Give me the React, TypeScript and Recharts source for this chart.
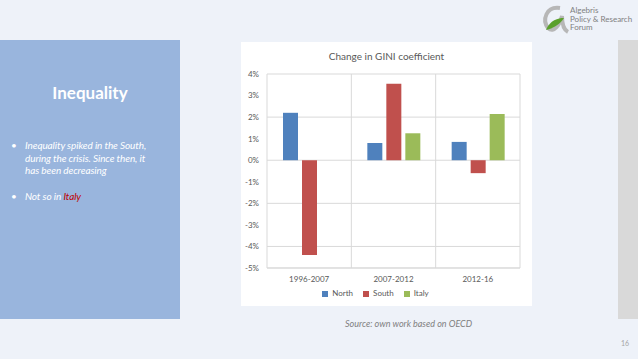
import React from 'react';
import { BarChart, Bar, XAxis, YAxis, CartesianGrid, Legend } from 'recharts';

const periods = ['1996-2007', '2007-2012', '2012-16'];
const north = [2.2, 0.8, 0.85];
const south = [-4.4, 3.55, -0.6];
const italy = [null, 1.25, 2.15];
const seriesNames = ['North', 'South', 'Italy'];
const yTicks = [-5, -4, -3, -2, -1, 0, 1, 2, 3, 4];

const data = periods.map((p, i) => ({ period: p, North: north[i], South: south[i], Italy: italy[i] }));

const gridX = ({ offset }: any) => [0, 1, 2, 3].map(i => offset.left + (i * offset.width) / 3);

export default function App() {
  const font = 'Lato, "Open Sans", sans-serif';
  const bullet = { width: 14, flexShrink: 0 };
  return (
    <div style={{ position: 'absolute', left: 0, top: 0, width: 638, height: 359, background: '#eef2f9', overflow: 'hidden', fontFamily: font }}>
      {/* left panel */}
      <div style={{ position: 'absolute', left: 0, top: 40, width: 180, height: 279, background: '#99b5dd' }}>
        <div style={{ position: 'absolute', top: 42, width: 180, textAlign: 'center', color: '#fff', fontSize: 17, fontWeight: 700 }}>
          Inequality
        </div>
        <div style={{ position: 'absolute', left: 11, top: 99, width: 146, color: '#fff', fontSize: 10, fontStyle: 'italic', lineHeight: '12.5px', letterSpacing: -0.1 }}>
          <div style={{ display: 'flex' }}>
            <span style={bullet}>•</span>
            <span>Inequality spiked in the South, during the crisis. Since then, it has been decreasing</span>
          </div>
          <div style={{ display: 'flex', marginTop: 13 }}>
            <span style={bullet}>•</span>
            <span>Not so in <span style={{ color: '#c00000' }}>Italy</span></span>
          </div>
        </div>
      </div>

      {/* right grey strip */}
      <div style={{ position: 'absolute', left: 618, top: 40, width: 20, height: 279, background: '#d9d9d9' }} />

      {/* logo */}
      <svg style={{ position: 'absolute', left: 540, top: 4 }} width={30} height={30}>
        <path d="M20 4 C6 2 2 16 8 24 C14 30 20 20 22 12 C22 20 24 26 28 28" fill="none" stroke="#b7b7b7" strokeWidth={4} />
        <path d="M6 26 C10 16 18 14 24 14 C20 20 14 24 6 26 Z" fill="#5aa02c" />
      </svg>
      <div style={{ position: 'absolute', left: 570, top: 6, fontSize: 8, lineHeight: '8.5px', color: '#7f7f7f' }}>
        Algebris<br />Policy &amp; Research<br />Forum
      </div>

      {/* chart */}
      <div style={{ position: 'absolute', left: 241, top: 42, width: 291, height: 264, background: '#fff' }}>
        <div style={{ position: 'absolute', top: 8, left: 0, width: 291, textAlign: 'center', fontSize: 10, color: '#595959' }}>
          Change in GINI coefficient
        </div>
        <BarChart
          width={291}
          height={264}
          data={data}
          margin={{ top: 32, right: 12, left: 0, bottom: 4 }}
          barSize={15}
          barGap={4}
        >
          <CartesianGrid stroke="#d9d9d9" verticalCoordinatesGenerator={gridX} />
          <XAxis
            dataKey="period"
            axisLine={{ stroke: '#d9d9d9' }}
            tickLine={false}
            height={20}
            tick={{ fill: '#595959', fontSize: 8, fontFamily: font }}
          />
          <YAxis
            domain={[-5, 4]}
            ticks={yTicks}
            width={26}
            axisLine={false}
            tickLine={false}
            tickFormatter={(v: number) => v + '%'}
            tick={{ fill: '#595959', fontSize: 8, fontFamily: font }}
          />
          <Legend
            iconType="square"
            iconSize={6}
            height={14}
            itemSorter={(item: any) => seriesNames.indexOf(item.value)}
            wrapperStyle={{ fontSize: 8, color: '#595959' }}
            formatter={(v: string) => <span style={{ color: '#595959' }}>{v}</span>}
          />
          <Bar dataKey="North" fill="#4f81bd" isAnimationActive={false} />
          <Bar dataKey="South" fill="#c0504d" isAnimationActive={false} />
          <Bar dataKey="Italy" fill="#9bbb59" isAnimationActive={false} />
        </BarChart>
      </div>

      <div style={{ position: 'absolute', left: 345, top: 318, fontSize: 9, fontStyle: 'italic', color: '#7f7f7f' }}>
        Source: own work based on OECD
      </div>
      <div style={{ position: 'absolute', left: 621, top: 339, fontSize: 7, color: '#a6a6a6' }}>16</div>
    </div>
  );
}
